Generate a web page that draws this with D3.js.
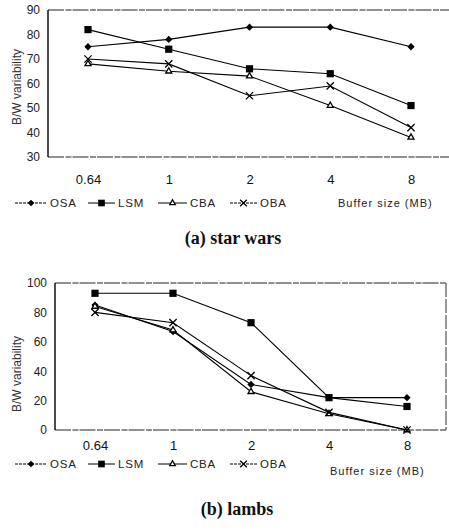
<!DOCTYPE html>
<html><head><meta charset="utf-8">
<script src="https://cdn.jsdelivr.net/npm/d3@7"></script>
<style>body{margin:0;background:#fff}svg{display:block}</style>
</head><body>
<svg id="c" width="449" height="532"></svg>
<script>
const categories = ["0.64", "1", "2", "4", "8"];
const seriesNames = ["OSA", "LSM", "CBA", "OBA"];
// (a) star wars
const swOSA = [75, 78, 83, 83, 75];
const swLSM = [82, 74, 66, 64, 51];
const swCBA = [68, 65, 63, 51, 38];
const swOBA = [70, 68, 55, 59, 42];
const swTicks = [30, 40, 50, 60, 70, 80, 90];
// (b) lambs
const lbOSA = [85, 67, 31, 22, 22];
const lbLSM = [93, 93, 73, 22, 16];
const lbCBA = [84, 68, 26, 11, 0];
const lbOBA = [80, 73, 37, 12, 0];
const lbTicks = [0, 20, 40, 60, 80, 100];

const markerTypes = ["diamond", "square", "triangle", "cross"];

const svg = d3.select("#c");
const sans = "Liberation Sans, Arial, sans-serif";

function drawMarker(g, type, x, y, small) {
  const k = small ? 0.85 : 1;
  if (type === "diamond") {
    g.append("path").attr("d", d3.symbol(d3.symbolDiamond2, 34 * k)())
      .attr("transform", `translate(${x},${y})`).attr("fill", "#000");
  } else if (type === "square") {
    const s = 7.2 * Math.sqrt(k);
    g.append("rect").attr("x", x - s / 2).attr("y", y - s / 2).attr("width", s).attr("height", s).attr("fill", "#000");
  } else if (type === "triangle") {
    g.append("path").attr("d", d3.symbol(d3.symbolTriangle2, 26 * k)())
      .attr("transform", `translate(${x},${y})`).attr("fill", "#fff").attr("stroke", "#000").attr("stroke-width", 1.3);
  } else {
    g.append("path").attr("d", d3.symbol(d3.symbolTimes, 36 * k)())
      .attr("transform", `translate(${x},${y})`).attr("fill", "none").attr("stroke", "#000").attr("stroke-width", 1.3);
  }
}

function panel(opt) {
  const g = svg.append("g");
  const x = d3.scalePoint().domain(categories).range(opt.xr);
  const y = d3.scaleLinear().domain(opt.yd).range(opt.yr);
  const [L, R, T, B] = opt.frame;
  // frame
  g.append("line").attr("x1", L).attr("x2", R).attr("y1", T).attr("y2", T)
    .attr("stroke", "#222").attr("stroke-width", 1.1).attr("stroke-dasharray", "16,1.5,6,1");
  g.append("line").attr("x1", L).attr("x2", R).attr("y1", B).attr("y2", B)
    .attr("stroke", "#222").attr("stroke-width", 1.1).attr("stroke-dasharray", "16,1.5,6,1");
  g.append("line").attr("x1", L).attr("x2", L).attr("y1", T).attr("y2", B)
    .attr("stroke", "#000").attr("stroke-width", 1.4);
  if (opt.rightBorder) {
    g.append("line").attr("x1", R).attr("x2", R).attr("y1", T).attr("y2", B)
      .attr("stroke", "#333").attr("stroke-width", 1).attr("stroke-dasharray", "14,2");
  }
  // y ticks
  const yAxis = d3.axisLeft(y).tickValues(opt.ticks).tickSize(0).tickPadding(0);
  const ya = g.append("g").attr("transform", `translate(${opt.yLabX},0)`).call(yAxis);
  ya.select(".domain").remove();
  ya.selectAll("text").attr("font-family", sans).attr("font-size", 12).attr("fill", "#222");
  // x ticks
  const xAxis = d3.axisBottom(x).tickSize(0).tickPadding(0);
  const xa = g.append("g").attr("transform", `translate(0,${opt.xLabY})`).call(xAxis);
  xa.select(".domain").remove();
  xa.selectAll("text").attr("font-family", sans).attr("font-size", 13).attr("fill", "#111");
  // y axis title
  g.append("text").attr("transform", `translate(${opt.yTitle[0]},${opt.yTitle[1]}) rotate(-90)`)
    .attr("text-anchor", "middle").attr("dominant-baseline", "central")
    .attr("font-family", sans).attr("font-size", 12).attr("fill", "#333").text("B/W variability");
  // series
  const line = d3.line().x((d, i) => x(categories[i])).y(d => y(d));
  opt.series.forEach((vals) => {
    g.append("path").attr("d", line(vals)).attr("fill", "none").attr("stroke", "#000").attr("stroke-width", 1.1);
  });
  opt.series.forEach((vals, si) => {
    vals.forEach((v, i) => drawMarker(g, markerTypes[si], x(categories[i]), y(v), false));
  });
  // legend
  const lx = [[15, 47], [88, 115], [158, 187], [230, 257]];
  seriesNames.forEach((n, i) => {
    const ly = opt.legY;
    g.append("line").attr("x1", lx[i][0]).attr("x2", lx[i][1]).attr("y1", ly).attr("y2", ly)
      .attr("stroke", "#000").attr("stroke-width", 1).attr("stroke-dasharray", i === 0 || i === 3 ? "3,1" : null);
    drawMarker(g, markerTypes[i], (lx[i][0] + lx[i][1]) / 2, ly, true);
    g.append("text").attr("x", lx[i][1] + 3).attr("y", ly).attr("dominant-baseline", "central")
      .attr("font-family", sans).attr("font-size", 11.5).attr("letter-spacing", 0.8).attr("fill", "#222").text(n);
  });
  g.append("text").attr("x", opt.bufX).attr("y", opt.bufY).attr("dominant-baseline", "central")
    .attr("font-family", sans).attr("font-size", 11).attr("letter-spacing", 1).attr("fill", "#222").text("Buffer size (MB)");
  // caption
  g.append("text").attr("x", opt.cap[0]).attr("y", opt.cap[1]).attr("text-anchor", "middle")
    .attr("font-family", "Liberation Serif, Times New Roman, serif").attr("font-weight", "bold")
    .attr("font-size", 18).attr("fill", "#111").text(opt.caption);
}

panel({
  xr: [88, 411], yd: [30, 90], yr: [157, 10], frame: [48, 449, 10, 157], rightBorder: false,
  ticks: swTicks, yLabX: 40, xLabY: 175, yTitle: [17, 87],
  series: [swOSA, swLSM, swCBA, swOBA], legY: 203, bufX: 338, bufY: 203,
  cap: [233, 244], caption: "(a) star wars"
});
panel({
  xr: [95, 407], yd: [0, 100], yr: [430, 283], frame: [55, 446, 283, 430], rightBorder: true,
  ticks: lbTicks, yLabX: 47, xLabY: 441, yTitle: [17, 374],
  series: [lbOSA, lbLSM, lbCBA, lbOBA], legY: 464, bufX: 330, bufY: 471,
  cap: [237, 515], caption: "(b) lambs"
});
</script>
</body></html>
